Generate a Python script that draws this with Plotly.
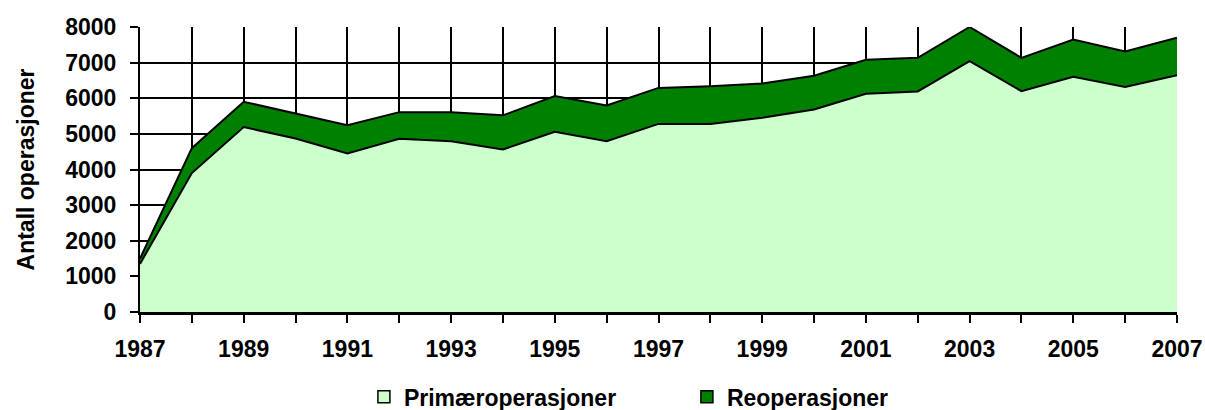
import plotly.graph_objects as go

years = list(range(1987, 2008))
primary = [1350, 3900, 5190, 4870, 4450, 4860, 4790, 4560, 5060, 4795, 5280,
           5280, 5450, 5685, 6125, 6190, 7040, 6200, 6600, 6315, 6645]
reop = [150, 700, 710, 700, 795, 750, 820, 960, 1000, 1005, 1010,
        1060, 965, 945, 955, 945, 960, 935, 1050, 995, 1055]
xtick_text = [str(y) if y % 2 == 1 else "" for y in years]
ytick_vals = [0, 1000, 2000, 3000, 4000, 5000, 6000, 7000, 8000]
series_names = ["Primæroperasjoner", "Reoperasjoner"]
series_colors = ["#CCFFCC", "#008000"]

FONT = "Liberation Sans, Arial, sans-serif"
TXT = dict(family=FONT, size=23, color="black", weight="bold")

fig = go.Figure()
for vals, nm, col in zip([primary, reop], series_names, series_colors):
    fig.add_trace(go.Scatter(
        x=years, y=vals, name=nm, mode="lines",
        stackgroup="one", fillcolor=col,
        line=dict(color="black", width=2), showlegend=False,
    ))
# legend entries drawn as filled boxes (no data)
for nm, col in zip(series_names, series_colors):
    fig.add_trace(go.Bar(
        x=[None], y=[None], name=nm,
        marker=dict(color=col, line=dict(color="black", width=1.5)),
        showlegend=True,
    ))

fig.update_layout(
    width=1205, height=410,
    margin=dict(l=140, r=28, t=27, b=98, autoexpand=False),
    paper_bgcolor="white", plot_bgcolor="white",
    font=TXT,
    showlegend=True,
    legend=dict(
        orientation="h", xref="container", x=0.302, xanchor="left",
        yref="container", y=0.032, yanchor="middle",
        font=TXT, itemwidth=30, traceorder="normal",
        bgcolor="rgba(0,0,0,0)", entrywidth=278,
    ),
)
fig.update_xaxes(
    range=[1987, 2007], tickvals=years, ticktext=xtick_text,
    showgrid=True, gridcolor="black", gridwidth=2,
    showline=True, linecolor="black", linewidth=3,
    ticks="outside", ticklen=8, tickwidth=2, tickcolor="black",
    tickfont=TXT, ticklabelstandoff=6, zeroline=False,
)
fig.update_yaxes(
    range=[0, 8000], tickvals=ytick_vals,
    showgrid=True, gridcolor="black", gridwidth=2,
    showline=True, linecolor="black", linewidth=2,
    ticks="outside", ticklen=8, tickwidth=2, tickcolor="black",
    tickfont=TXT, ticklabelstandoff=9, zeroline=False,
    title=dict(text="Antall operasjoner", standoff=24,
               font=dict(family=FONT, size=23, color="black", weight="bold")),
)

fig.write_html("out.html", config={"displayModeBar": False},
               post_script="document.body.style.margin='0';")
